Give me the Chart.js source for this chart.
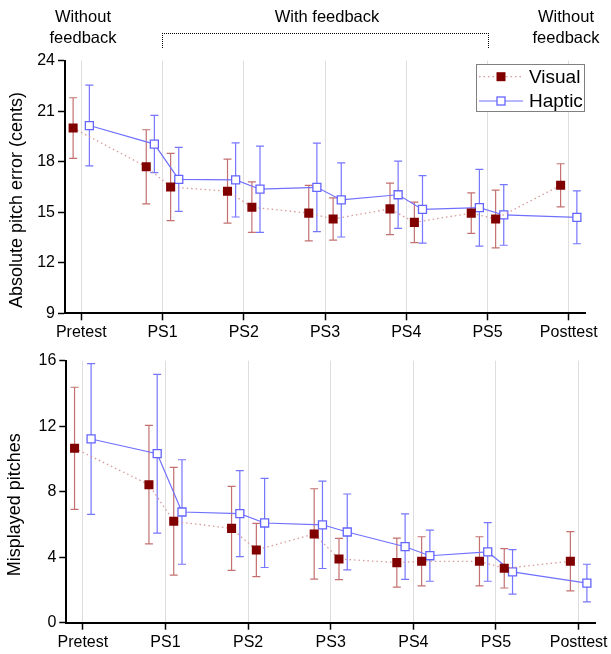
<!DOCTYPE html>
<html>
<head>
<meta charset="utf-8">
<script src="https://cdn.jsdelivr.net/npm/chart.js@4.4.1/dist/chart.umd.min.js"></script>
<style>
html,body{margin:0;padding:0;background:#fff;}
#wrap{position:relative;width:611px;height:654px;overflow:hidden;font-family:"Liberation Sans",Arial,sans-serif;color:#000;}
.hdr{position:absolute;font-size:16.5px;line-height:21px;text-align:center;white-space:nowrap;width:120px;}
#c1{position:absolute;left:0;top:0;}
#c2{position:absolute;left:0;top:345px;}
#bracket{position:absolute;left:162px;top:33px;width:325px;height:14px;border:1px dotted #000;border-bottom:none;}
</style>
</head>
<body>
<div id="wrap">
  <canvas id="c1" width="611" height="345"></canvas>
  <canvas id="c2" width="611" height="309"></canvas>
  <div class="hdr" style="left:23px;top:6px;">Without<br>feedback</div>
  <div class="hdr" style="left:267px;top:6px;">With feedback</div>
  <div class="hdr" style="left:506px;top:6px;">Without<br>feedback</div>
  <div id="bracket"></div>
</div>
<script>
// ---- data ----
const stageLabels = ['Pretest', 'PS1', 'PS2', 'PS3', 'PS4', 'PS5', 'Posttest'];
const seriesNames = ['Visual', 'Haptic'];
const visualX = [-0.1, 0.8, 1.1, 1.8, 2.1, 2.8, 3.1, 3.8, 4.1, 4.8, 5.1, 5.9];
const hapticX = [0.1, 0.9, 1.2, 1.9, 2.2, 2.9, 3.2, 3.9, 4.2, 4.9, 5.2, 6.1];

const visualPitchError   = [20.0, 17.7, 16.5, 16.25, 15.3, 14.95, 14.6, 15.2, 14.4, 14.95, 14.6, 16.6];
const visualPitchErrorSD = [1.8, 2.2, 2.0, 1.9, 1.5, 1.65, 1.26, 1.53, 1.2, 1.2, 1.72, 1.28];
const hapticPitchError   = [20.15, 19.05, 16.95, 16.92, 16.37, 16.48, 15.73, 16.04, 15.17, 15.27, 14.84, 14.7];
const hapticPitchErrorSD = [2.4, 1.7, 1.9, 2.2, 2.56, 2.63, 2.2, 2.0, 2.0, 2.28, 1.8, 1.57];

const visualMisplayed   = [10.65, 8.43, 6.19, 5.76, 4.44, 5.42, 3.89, 3.67, 3.75, 3.75, 3.32, 3.75];
const visualMisplayedSD = [3.73, 3.62, 3.29, 2.57, 1.63, 2.76, 1.26, 1.5, 1.5, 1.5, 1.2, 1.81];
const hapticMisplayed   = [11.22, 10.32, 6.76, 6.66, 6.09, 5.98, 5.54, 4.64, 4.09, 4.32, 3.1, 2.42];
const hapticMisplayedSD = [4.6, 4.85, 3.19, 2.63, 2.72, 2.67, 2.32, 2.0, 1.56, 1.79, 1.36, 1.15];

const pitchTicks = [9, 12, 15, 18, 21, 24];
const misplayedTicks = [0, 4, 8, 12, 16];

// ---- styling ----
const FONT = '"Liberation Sans", Arial, sans-serif';
Chart.defaults.font.family = FONT;
Chart.defaults.color = '#000';

const VIS_LINE = 'rgba(214,150,150,0.95)';
const VIS_FILL = '#800000';
const VIS_ERR = 'rgb(196,112,112)';
const HAP_LINE = 'rgb(112,112,255)';
const HAP_ERR = 'rgb(118,118,255)';

function makeDatasets(vy, ve, hy, he) {
  return [
    {
      label: seriesNames[0],
      data: visualX.map((x, i) => ({x: x, y: vy[i]})),
      errors: ve, errorColor: VIS_ERR,
      borderColor: VIS_LINE, borderWidth: 1.3, borderDash: [1.5, 3],
      pointStyle: 'rect', pointRadius: 6.4, pointHoverRadius: 6.4,
      pointBackgroundColor: VIS_FILL, pointBorderColor: VIS_FILL, pointBorderWidth: 0,
      tension: 0, fill: false
    },
    {
      label: seriesNames[1],
      data: hapticX.map((x, i) => ({x: x, y: hy[i]})),
      errors: he, errorColor: HAP_ERR,
      borderColor: HAP_LINE, borderWidth: 1.2,
      pointStyle: 'rect', pointRadius: 5.66, pointHoverRadius: 5.66,
      pointBackgroundColor: '#ffffff', pointBorderColor: 'rgb(100,100,255)', pointBorderWidth: 1.3,
      tension: 0, fill: false
    }
  ];
}

const errorBarPlugin = {
  id: 'errorBars',
  beforeDatasetsDraw(chart) {
    const ctx = chart.ctx;
    const ys = chart.scales.y;
    ctx.save();
    chart.data.datasets.forEach((ds, di) => {
      const meta = chart.getDatasetMeta(di);
      ctx.strokeStyle = ds.errorColor;
      ctx.lineWidth = 1.2;
      meta.data.forEach((pt, j) => {
        const v = ds.data[j].y, e = ds.errors[j];
        const yt = ys.getPixelForValue(v + e), yb = ys.getPixelForValue(v - e);
        const x = pt.x;
        ctx.beginPath();
        ctx.moveTo(x, yt); ctx.lineTo(x, yb);
        ctx.moveTo(x - 4, yt); ctx.lineTo(x + 4, yt);
        ctx.moveTo(x - 4, yb); ctx.lineTo(x + 4, yb);
        ctx.stroke();
      });
    });
    ctx.restore();
  }
};

const yTitlePlugin = {
  id: 'yTitle',
  afterDraw(chart, args, opts) {
    const ctx = chart.ctx, ca = chart.chartArea;
    ctx.save();
    ctx.font = '18px ' + FONT;
    ctx.fillStyle = '#000';
    ctx.textAlign = 'center';
    ctx.textBaseline = 'middle';
    ctx.translate(opts.x, (ca.top + ca.bottom) / 2 + opts.shift);
    ctx.rotate(-Math.PI / 2);
    ctx.fillText(opts.text, 0, 0);
    ctx.restore();
  }
};

const boxLegendPlugin = {
  id: 'boxLegend',
  afterDraw(chart, args, opts) {
    if (!opts.show) return;
    const ctx = chart.ctx, ca = chart.chartArea;
    const w = 109, h = 48;
    const left = ca.right - w, top = ca.top + 3.5;
    ctx.save();
    ctx.fillStyle = '#fff';
    ctx.fillRect(left, top, w, h);
    ctx.strokeStyle = '#808080';
    ctx.lineWidth = 1;
    ctx.strokeRect(Math.round(left) + 0.5, Math.round(top) + 0.5, w - 1, h - 1);
    chart.data.datasets.forEach((ds, i) => {
      const y = top + 12.5 + i * 24.3;
      ctx.beginPath();
      ctx.strokeStyle = ds.borderColor;
      ctx.lineWidth = ds.borderWidth;
      ctx.setLineDash(ds.borderDash || []);
      ctx.moveTo(left + 3, y); ctx.lineTo(left + 47, y);
      ctx.stroke();
      ctx.setLineDash([]);
      const cx = left + 25, s = i === 0 ? 9 : 8;
      ctx.fillStyle = ds.pointBackgroundColor;
      ctx.fillRect(cx - s / 2, y - s / 2, s, s);
      if (i === 1) {
        ctx.strokeStyle = ds.pointBorderColor;
        ctx.lineWidth = ds.pointBorderWidth;
        ctx.strokeRect(cx - s / 2, y - s / 2, s, s);
      }
      ctx.fillStyle = '#000';
      ctx.font = '19px ' + FONT;
      ctx.textAlign = 'left';
      ctx.textBaseline = 'middle';
      ctx.fillText(ds.label, left + 53, y + 1);
    });
    ctx.restore();
  }
};

function makeChart(id, datasets, yTicks, title, cfg) {
  return new Chart(document.getElementById(id), {
    type: 'line',
    data: {datasets: datasets},
    plugins: [errorBarPlugin, yTitlePlugin, boxLegendPlugin],
    options: {
      responsive: false,
      animation: false,
      events: [],
      layout: {padding: cfg.padding},
      plugins: {
        legend: {display: false},
        tooltip: {enabled: false},
        yTitle: {text: title, x: cfg.titleX, shift: cfg.titleShift},
        boxLegend: {show: cfg.legend}
      },
      scales: {
        x: {
          type: 'linear',
          min: -0.2, max: 6.2,
          afterBuildTicks: s => { s.ticks = stageLabels.map((_, i) => ({value: i})); },
          afterFit: s => { s.height = cfg.xHeight; },
          ticks: {
            callback: v => stageLabels[Math.round(v)],
            font: {size: 16}, color: '#000', padding: 3, maxRotation: 0, autoSkip: false
          },
          grid: {color: '#dedede', lineWidth: 1, tickColor: '#000', tickWidth: 1.5, tickLength: 7, drawOnChartArea: true},
          border: {color: '#000', width: 2}
        },
        y: {
          type: 'linear',
          min: yTicks[0], max: yTicks[yTicks.length - 1],
          afterBuildTicks: s => { s.ticks = yTicks.map(v => ({value: v})); },
          afterFit: s => { s.width = cfg.yWidth; },
          ticks: {font: {size: 16}, color: '#000', padding: 3},
          grid: {drawOnChartArea: false, tickColor: '#000', tickWidth: 1.5, tickLength: 7},
          border: {color: '#000', width: 2}
        }
      }
    }
  });
}

makeChart('c1',
  makeDatasets(visualPitchError, visualPitchErrorSD, hapticPitchError, hapticPitchErrorSD),
  pitchTicks, 'Absolute pitch error (cents)',
  {padding: {top: 60.7, right: 26, bottom: 0, left: 0}, xHeight: 31.7, yWidth: 65, titleX: 16.6, titleShift: 13, legend: true});

makeChart('c2',
  makeDatasets(visualMisplayed, visualMisplayedSD, hapticMisplayed, hapticMisplayedSD),
  misplayedTicks, 'Misplayed pitches',
  {padding: {top: 15.7, right: 15, bottom: 0, left: 0}, xHeight: 31.3, yWidth: 66.3, titleX: 15, titleShift: 13, legend: false});
</script>
</body>
</html>
